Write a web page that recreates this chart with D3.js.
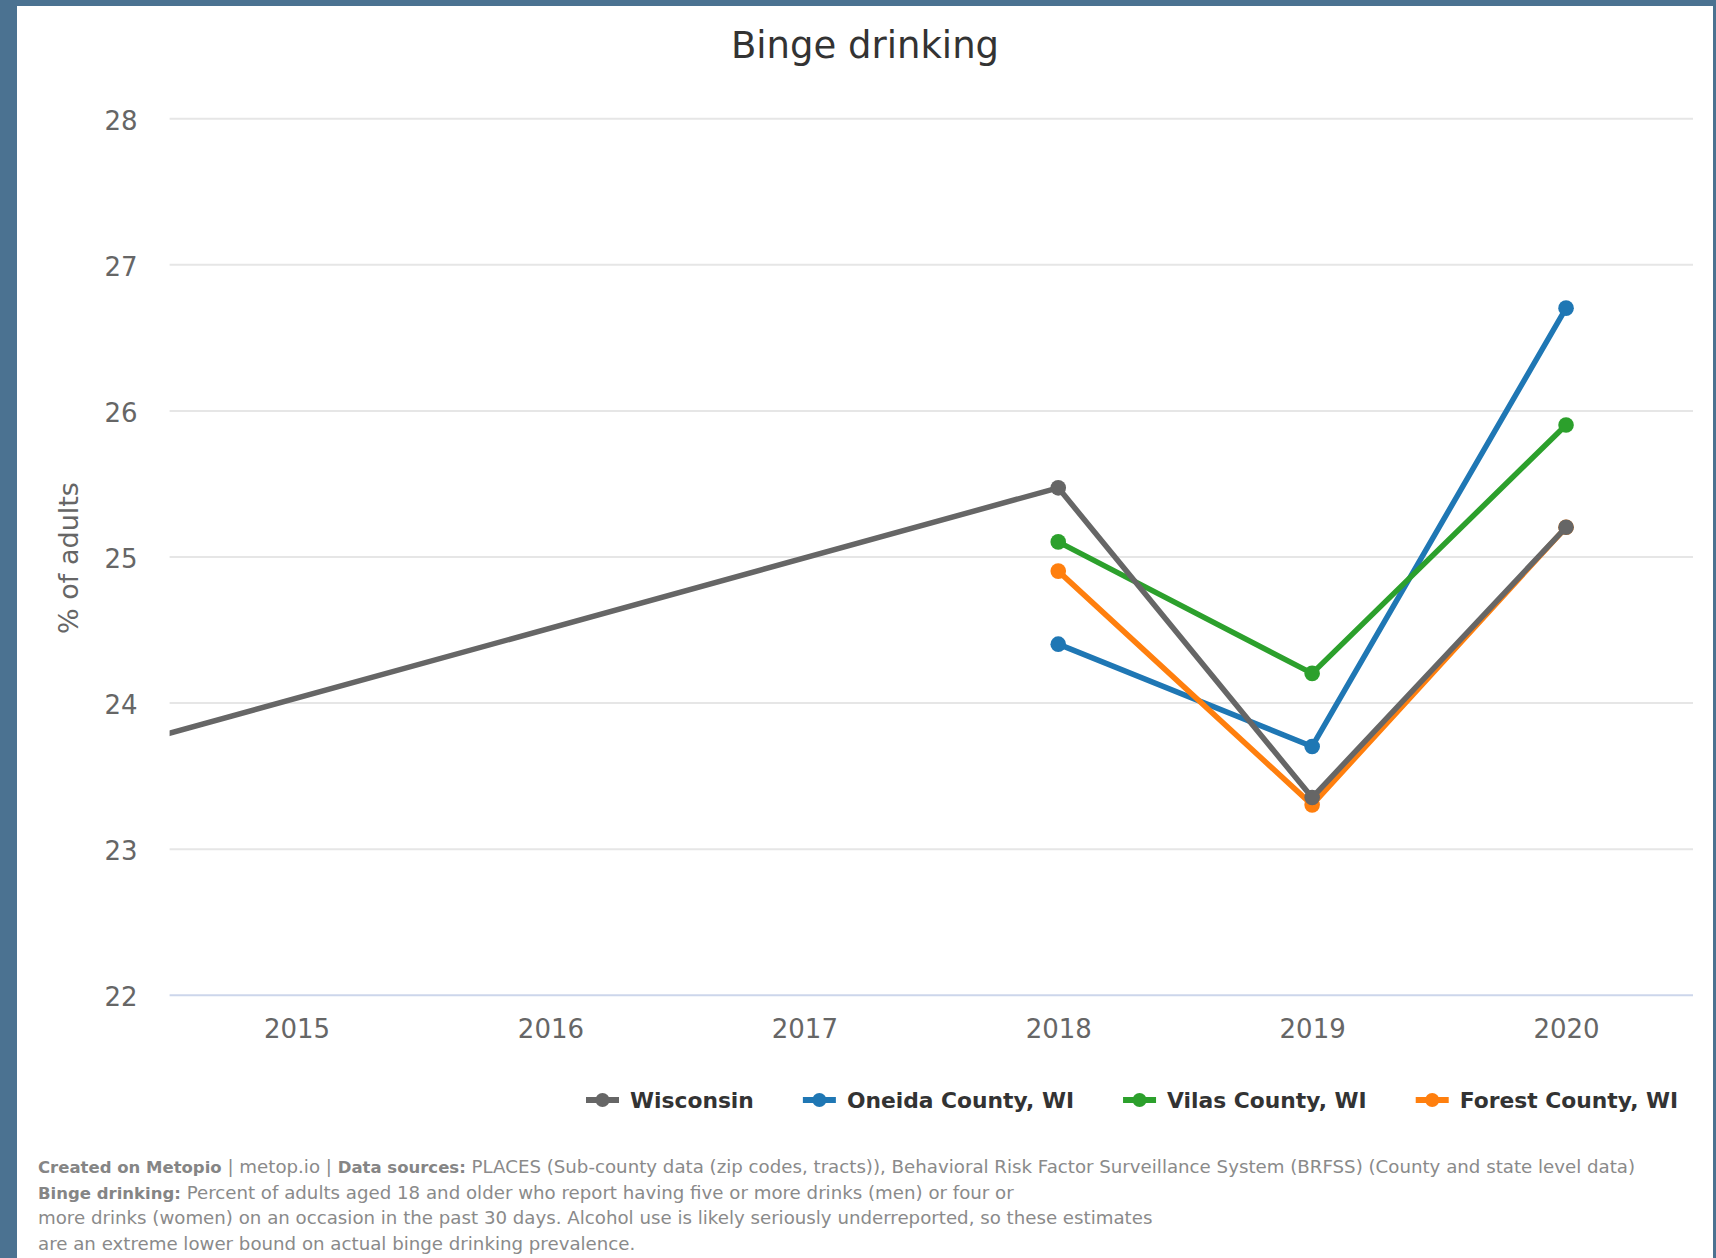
<!DOCTYPE html>
<html>
<head>
<meta charset="utf-8">
<script src="https://cdn.jsdelivr.net/npm/d3@7"></script>
<style>
  html, body { margin: 0; padding: 0; background: #4b7291; }
  svg { display: block; }
  text { font-family: "DejaVu Sans", Verdana, sans-serif; }
</style>
</head>
<body>
<svg id="chart" width="1716" height="1258"></svg>
<script>
// ---- data ----
const tickYears = [2015, 2016, 2017, 2018, 2019, 2020];
const yTicks = [22, 23, 24, 25, 26, 27, 28];
const wisconsinYears = [2014, 2018, 2019, 2020];
const wisconsinValues = [23.55, 25.47, 23.35, 25.2];
const countyYears = [2018, 2019, 2020];
const oneidaValues = [24.4, 23.7, 26.7];
const vilasValues = [25.1, 24.2, 25.9];
const forestValues = [24.9, 23.3, 25.2];
const seriesNames = ["Wisconsin", "Oneida County, WI", "Vilas County, WI", "Forest County, WI"];
const seriesColors = ["#666666", "#1f77b4", "#2ca02c", "#ff7f0e"];
const titleText = "Binge drinking";
const yAxisTitle = "% of adults";

const series = [
  { name: seriesNames[0], color: seriesColors[0], pts: wisconsinYears.map((y, i) => ({ x: y, v: wisconsinValues[i] })) },
  { name: seriesNames[1], color: seriesColors[1], pts: countyYears.map((y, i) => ({ x: y, v: oneidaValues[i] })) },
  { name: seriesNames[2], color: seriesColors[2], pts: countyYears.map((y, i) => ({ x: y, v: vilasValues[i] })) },
  { name: seriesNames[3], color: seriesColors[3], pts: countyYears.map((y, i) => ({ x: y, v: forestValues[i] })) }
];

// ---- layout ----
const svg = d3.select("#chart");
svg.append("rect").attr("x", 17).attr("y", 6).attr("width", 1696).attr("height", 1252).attr("fill", "#ffffff");

const plot = { left: 169.6, right: 1693, top: 118.2, bottom: 994.8 };
const x = d3.scaleLinear().domain([2014.5, 2020.5]).range([plot.left, plot.right]);
const y = d3.scaleLinear().domain([22, 28]).range([plot.bottom, plot.top]);

// title
svg.append("text").attr("x", 865).attr("y", 58).attr("text-anchor", "middle")
  .attr("font-size", 37).attr("fill", "#333333").text(titleText);

// gridlines + y labels
const yAxis = d3.axisLeft(y).tickValues(yTicks).tickSize(-(plot.right - plot.left)).tickPadding(32).tickFormat(d3.format("d"));
const gy = svg.append("g").attr("transform", `translate(${plot.left},0)`).call(yAxis);
gy.select(".domain").remove();
gy.selectAll(".tick line").attr("stroke", "#e6e6e6").attr("stroke-width", 2);
gy.selectAll(".tick").filter(d => d === 22).select("line").attr("stroke", "#ccd6eb");
gy.selectAll(".tick text").attr("font-size", 26).attr("fill", "#666666").attr("dy", "0.42em")
  .attr("font-family", "DejaVu Sans");

// x labels
const xAxis = d3.axisBottom(x).tickValues(tickYears).tickSize(0).tickPadding(0).tickFormat(d3.format("d"));
const gx = svg.append("g").attr("transform", `translate(0,${plot.bottom})`).call(xAxis);
gx.select(".domain").remove();
gx.selectAll(".tick text").attr("font-size", 26).attr("fill", "#666666").attr("dy", null).attr("y", 43)
  .attr("font-family", "DejaVu Sans");

// y title
svg.append("text").attr("transform", "translate(78,558) rotate(-90)").attr("text-anchor", "middle")
  .attr("font-size", 27).attr("fill", "#666666").text(yAxisTitle);

// clip
svg.append("clipPath").attr("id", "plotclip").append("rect")
  .attr("x", plot.left).attr("y", plot.top - 20).attr("width", plot.right - plot.left).attr("height", plot.bottom - plot.top + 40);

const line = d3.line().x(d => x(d.x)).y(d => y(d.v));
const drawOrder = [1, 2, 3, 0];
const gSeries = svg.append("g").attr("clip-path", "url(#plotclip)");
drawOrder.forEach(i => {
  const s = series[i];
  const g = gSeries.append("g");
  g.append("path").datum(s.pts).attr("d", line).attr("fill", "none").attr("stroke", s.color)
    .attr("stroke-width", 5.5).attr("stroke-linejoin", "round").attr("stroke-linecap", "round");
  g.selectAll("circle").data(s.pts).join("circle")
    .attr("cx", d => x(d.x)).attr("cy", d => y(d.v)).attr("r", 7.8).attr("fill", s.color);
});

// legend
const legendY = 1100;
const legend = svg.append("g");
let lx = 586;
series.forEach(s => {
  const g = legend.append("g").attr("transform", `translate(${lx},${legendY})`);
  g.append("line").attr("x1", 0).attr("x2", 33).attr("y1", 0).attr("y2", 0).attr("stroke", s.color).attr("stroke-width", 6);
  g.append("circle").attr("cx", 16.5).attr("cy", 0).attr("r", 7).attr("fill", s.color);
  const t = g.append("text").attr("x", 44).attr("y", 8).attr("font-size", 21.8).attr("font-weight", "bold")
    .attr("fill", "#333333").text(s.name);
  lx += 44 + t.node().getComputedTextLength() + 49;
});

// footer
const footerLines = [
  [["Created on Metopio", true], [" | metop.io | ", false], ["Data sources:", true], [" PLACES (Sub-county data (zip codes, tracts)), Behavioral Risk Factor Surveillance System (BRFSS) (County and state level data)", false]],
  [["Binge drinking:", true], [" Percent of adults aged 18 and older who report having five or more drinks (men) or four or", false]],
  [["more drinks (women) on an occasion in the past 30 days. Alcohol use is likely seriously underreported, so these estimates", false]],
  [["are an extreme lower bound on actual binge drinking prevalence.", false]]
];
footerLines.forEach((parts, i) => {
  const t = svg.append("text").attr("x", 38).attr("y", 1173 + i * 25.6).attr("fill", "#8a8a8a");
  parts.forEach(([txt, bold]) => {
    t.append("tspan").attr("font-size", bold ? 16.5 : 18.2).attr("font-weight", bold ? "bold" : "normal")
      .attr("fill", bold ? "#858585" : "#8a8a8a").text(txt);
  });
});
</script>
</body>
</html>
